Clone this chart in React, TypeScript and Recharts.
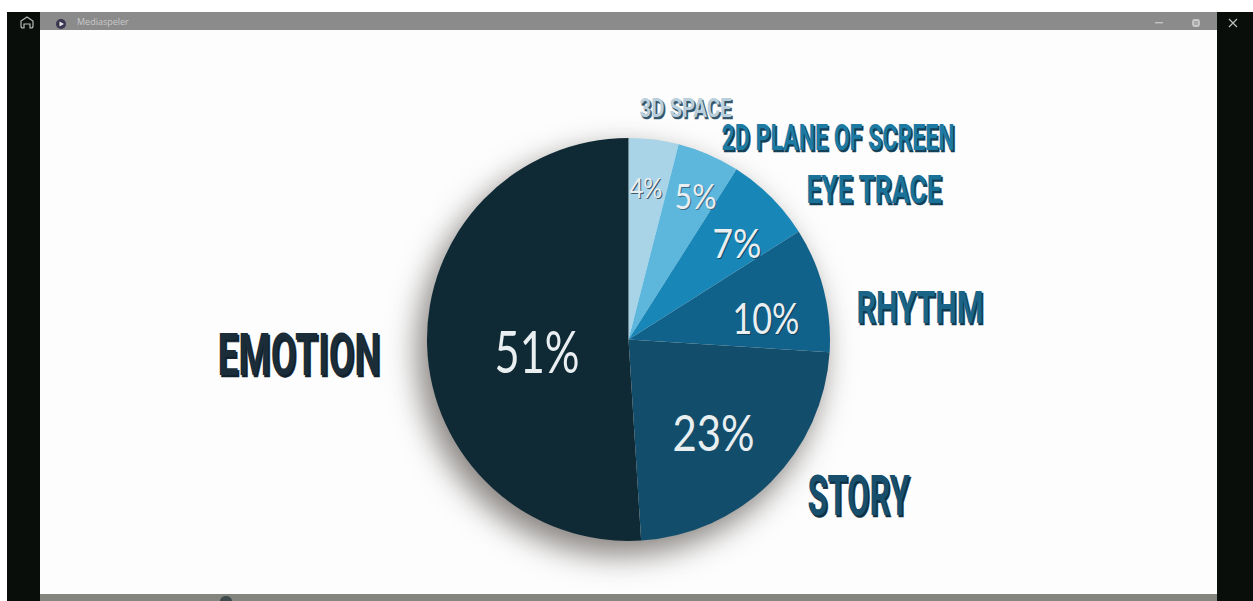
import { Pie, PieChart, Cell } from 'recharts';

const topics = ['3D SPACE', '2D PLANE OF SCREEN', 'EYE TRACE', 'RHYTHM', 'STORY', 'EMOTION'];
const shares = [4, 5, 7, 10, 23, 51];

const sliceColors = ['#a9d3e6', '#5db7dc', '#1887b8', '#11628a', '#124e6b', '#0f2a35'];
const faceColors = ['#b9cfdb', '#1d7aa3', '#1a7299', '#1a6487', '#174f6c', '#1a2d38'];
const edgeColors = ['#34566c', '#133f57', '#123f58', '#0f3b52', '#0e3044', '#10202b'];
const percentEdges = ['#3d5a6c', '#3d6a84', '#0f4a68', '#0d3f5a', '#124e6b', '#0f2a35'];

const pieData = topics.map((name, i) => ({ name, value: shares[i] }));

const W = 1253;
const H = 601;
const CX = 628.5;
const CY = 339.5;
const R = 201.5;

// text boxes relative to the pie centre: x, baseline, width, size
const nameBoxes = [
  { x: 11, y: -223, w: 92, size: 26 },
  { x: 93, y: -190, w: 233, size: 36 },
  { x: 178, y: -137, w: 135, size: 39 },
  { x: 228, y: -17, w: 127, size: 44 },
  { x: 179, y: 175, w: 102, size: 56 },
  { x: -411, y: 35, w: 163, size: 60 },
];
const percentBoxes = [
  { x: 1, y: -142, w: 33, size: 26 },
  { x: 46, y: -131, w: 42, size: 34 },
  { x: 84, y: -82, w: 49, size: 41 },
  { x: 104, y: -6, w: 67, size: 43 },
  { x: 44, y: 111, w: 82, size: 51 },
  { x: -134, y: 33, w: 85, size: 58 },
];

const NAME_FONT = 'Roboto, "Liberation Sans", sans-serif';
const PERCENT_FONT = 'Lato, "Open Sans", sans-serif';

function SliceLabels(props: any) {
  const { cx, cy, index, name, value } = props;
  const nb = nameBoxes[index];
  const pb = percentBoxes[index];
  const common = { lengthAdjust: 'spacingAndGlyphs' as const };
  return (
    <g>
      <text
        x={cx + nb.x + 1.5}
        y={cy + nb.y + 2}
        textLength={nb.w}
        {...common}
        fontFamily={NAME_FONT}
        fontWeight={700}
        fontSize={nb.size}
        fill={edgeColors[index]}
        stroke={edgeColors[index]}
        strokeWidth={0.6}
      >
        {name}
      </text>
      <text
        x={cx + nb.x}
        y={cy + nb.y}
        textLength={nb.w}
        {...common}
        fontFamily={NAME_FONT}
        fontWeight={700}
        fontSize={nb.size}
        fill={faceColors[index]}
      >
        {name}
      </text>
      <text
        x={cx + pb.x + 1}
        y={cy + pb.y + 1.5}
        textLength={pb.w}
        {...common}
        fontFamily={PERCENT_FONT}
        fontSize={pb.size}
        fill={percentEdges[index]}
      >
        {`${value}%`}
      </text>
      <text
        x={cx + pb.x}
        y={cy + pb.y}
        textLength={pb.w}
        {...common}
        fontFamily={PERCENT_FONT}
        fontSize={pb.size}
        fill="#e9eef1"
      >
        {`${value}%`}
      </text>
    </g>
  );
}

function box(left: number, top: number, width: number, height: number, background: string) {
  return { position: 'absolute' as const, left, top, width, height, background };
}

// media player window around the slide
function PlayerFrame() {
  return (
    <>
      <div style={box(40, 12, 1177, 582, '#fdfdfd')} />
      <div style={box(7, 12, 33, 589, '#0a0e0a')} />
      <div style={box(1217, 12, 36, 589, '#0a0e0a')} />
      <div style={box(40, 12, 1177, 18, '#8b8b8b')} />
      <div style={box(40, 594, 1177, 7, '#85857f')} />
      <div
        style={{
          position: 'absolute',
          left: 77,
          top: 16,
          fontFamily: '"Open Sans", sans-serif',
          fontSize: 9,
          lineHeight: '11px',
          color: '#c9c9c9',
        }}
      >
        Mediaspeler
      </div>
      <svg width={W} height={H} style={{ position: 'absolute', left: 0, top: 0 }}>
        <path
          d="M21 26 L21 21 L27 17 L33 21 L33 26 Q33 28 31 28 L30 28 L30 24 L24 24 L24 28 L23 28 Q21 28 21 26 Z"
          fill="none"
          stroke="#b9b9b9"
          strokeWidth={1.2}
        />
        <circle cx={61} cy={24} r={5} fill="#3a3550" />
        <path d="M59.5 21.5 L64 24 L59.5 26.5 Z" fill="#e8e8e8" />
        <rect x={1155} y={22} width={8} height={1.4} fill="#c4c4c4" />
        <rect x={1193} y={20} width={6} height={6} rx={1.5} fill="#a9a9a9" stroke="#c9c9c9" strokeWidth={1.8} />
        <path d="M1229 19 L1237 27 M1237 19 L1229 27" stroke="#bdbdbd" strokeWidth={1.2} />
        <path d="M220 601 A6 5 0 0 1 232 601 Z" fill="#3f4a4c" />
      </svg>
    </>
  );
}

export default function App() {
  return (
    <div style={{ position: 'absolute', left: 0, top: 0, width: W, height: H, background: '#ffffff', overflow: 'hidden' }}>
      <PlayerFrame />
      <div
        style={{
          position: 'absolute',
          left: CX - R + 2,
          top: CY - R + 2,
          width: 2 * R - 4,
          height: 2 * R - 4,
          borderRadius: '50%',
          boxShadow: '-8px 13px 30px 3px rgba(55, 48, 44, 0.6)',
        }}
      />
      <div style={{ position: 'absolute', left: 0, top: 0 }}>
        <PieChart width={W} height={H} margin={{ top: 0, right: 0, bottom: 0, left: 0 }}>
          <Pie
            data={pieData}
            dataKey="value"
            nameKey="name"
            cx={CX}
            cy={CY}
            outerRadius={R}
            startAngle={90}
            endAngle={-270}
            stroke="none"
            label={SliceLabels}
            labelLine={false}
            isAnimationActive={false}
          >
            {pieData.map((d, i) => (
              <Cell key={d.name} fill={sliceColors[i]} />
            ))}
          </Pie>
        </PieChart>
      </div>
    </div>
  );
}
